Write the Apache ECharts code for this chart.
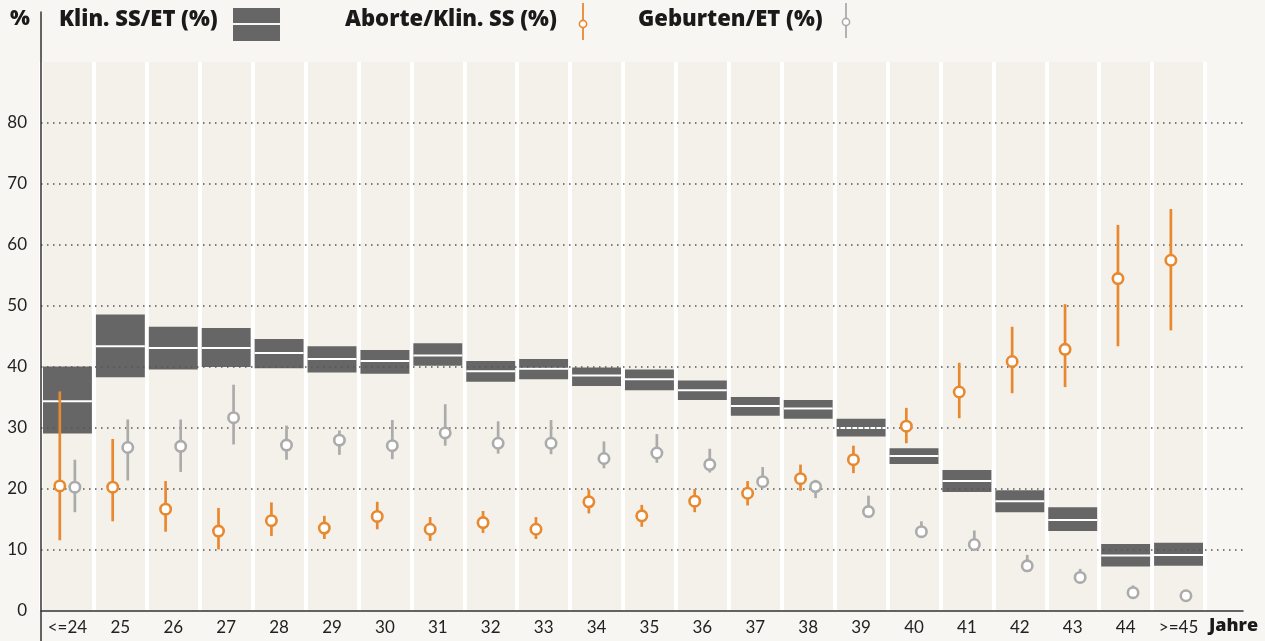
<!DOCTYPE html>
<html>
<head>
<meta charset="utf-8">
<script src="https://cdn.jsdelivr.net/npm/echarts@6/dist/echarts.min.js"></script>
<style>
html,body{margin:0;padding:0;background:#f7f6f2;}
#chart{width:1265px;height:641px;}
</style>
</head>
<body>
<div id="chart"></div>
<script>
// ---- data ----
var categories = ['<=24','25','26','27','28','29','30','31','32','33','34','35','36','37','38','39','40','41','42','43','44','>=45'];
var yTicks = [0,10,20,30,40,50,60,70,80];

// Klin. SS/ET (%) : lower, mid, upper
var klinLow  = [29.1,38.3,39.6,40.0,39.8,39.1,38.9,40.2,37.6,38.0,36.9,36.2,34.6,32.0,31.5,28.6,24.1,19.5,16.2,13.1,7.3,7.4];
var klinMid  = [34.4,43.4,43.1,43.1,42.3,41.3,41.0,41.9,39.3,39.7,38.6,38.0,36.2,33.6,33.2,30.0,25.4,21.3,18.0,14.9,9.1,9.2];
var klinHigh = [40.1,48.6,46.6,46.4,44.6,43.4,42.8,43.9,41.0,41.3,39.9,39.6,37.8,35.1,34.6,31.5,26.7,23.1,19.8,17.0,11.0,11.2];

// Aborte/Klin. SS (%)
var abortMid  = [20.5,20.3,16.7,13.1,14.8,13.6,15.5,13.4,14.5,13.4,17.9,15.6,18.0,19.3,21.7,24.8,30.3,35.9,40.9,42.9,54.5,57.5];
var abortLow  = [11.6,14.7,13.0,10.1,12.3,11.8,13.4,11.5,12.8,11.8,16.0,13.8,16.2,17.3,19.7,22.6,27.5,31.6,35.7,36.7,43.4,46.0];
var abortHigh = [36.0,28.2,21.3,16.9,17.8,15.6,17.9,15.4,16.4,15.4,19.9,17.4,20.0,21.3,24.0,27.1,33.3,40.7,46.6,50.3,63.3,65.9];

// Geburten/ET (%)
var gebMid  = [20.3,26.8,27.0,31.7,27.2,28.0,27.1,29.2,27.5,27.5,25.0,25.9,24.0,21.2,20.4,16.3,13.0,10.9,7.4,5.5,3.0,2.5];
var gebLow  = [16.2,21.4,22.8,27.3,24.8,25.6,24.9,27.1,25.8,25.7,23.4,24.3,22.7,20.1,18.5,16.0,12.5,10.5,7.0,5.2,2.8,2.3];
var gebHigh = [24.8,31.4,31.4,37.1,30.4,29.6,31.3,33.9,31.1,31.3,27.8,29.0,26.6,23.6,21.5,18.9,14.7,13.2,9.2,6.9,4.2,3.0];

// ---- build ----
var FONT = 'Lato';
var LFONT = '"Open Sans"';
var ORANGE = '#e8882f';
var GRAY = '#ababab';
var BOX = '#666666';

var boxData = categories.map(function(c, i){ return [i, klinLow[i], klinMid[i], klinHigh[i]]; });
var abortData = categories.map(function(c, i){ return [i, abortMid[i], abortLow[i], abortHigh[i]]; });
var gebData = categories.map(function(c, i){ return [i, gebMid[i], gebLow[i], gebHigh[i]]; });

function renderBox(params, api){
  var i = api.value(0);
  var top = api.coord([i, api.value(3)]);
  var bot = api.coord([i, api.value(1)]);
  var mid = api.coord([i, api.value(2)]);
  var w = api.size([1, 0])[0] - 4;
  return {type:'group', children:[
    {type:'rect', shape:{x: top[0]-w/2, y: top[1], width: w, height: bot[1]-top[1]}, style:{fill: BOX}},
    {type:'rect', shape:{x: top[0]-w/2, y: mid[1]-1, width: w, height: 2}, style:{fill:'#ffffff'}}
  ]};
}

function makeErr(color, frac){
  return function(params, api){
    var i = api.value(0);
    var band = api.size([1, 0])[0];
    var c = api.coord([i, api.value(1)]);
    var lo = api.coord([i, api.value(2)]);
    var hi = api.coord([i, api.value(3)]);
    var x = c[0] + band * frac;
    return {type:'group', children:[
      {type:'line', shape:{x1:x, y1:hi[1], x2:x, y2:lo[1]}, style:{stroke: color, lineWidth: 2.7}},
      {type:'circle', shape:{cx:x, cy:c[1], r:5.2}, style:{fill:'#ffffff', stroke: color, lineWidth: 2.6}}
    ]};
  };
}

var chart = echarts.init(document.getElementById('chart'));
chart.setOption({
  backgroundColor: '#f7f6f2',
  animation: false,
  grid: [
    {left: 41, top: 62, width: 1164, bottom: 30, show: true, backgroundColor: '#f3f1ea', borderWidth: 0},
    {left: 41, top: 62, right: 22, bottom: 30},
    {left: 41, top: 12, width: 1, bottom: 0}
  ],
  xAxis: [
    {gridIndex: 0, type: 'category', data: categories, boundaryGap: true,
     axisLine: {show: false}, axisTick: {show: false},
     axisLabel: {color: '#222', fontSize: 17, fontFamily: FONT, margin: 8},
     splitLine: {show: true, lineStyle: {color: '#ffffff', width: 4}}},
    {gridIndex: 1, type: 'value', min: 0, max: 1, axisLabel: {show: false}, axisTick: {show: false},
     splitLine: {show: false}, axisLine: {show: true, lineStyle: {color: '#333', width: 1.5}}, z: 5},
    {gridIndex: 2, type: 'value', min: 0, max: 1, show: false}
  ],
  yAxis: [
    {gridIndex: 0, type: 'value', min: 0, max: 90, interval: 10, show: false},
    {gridIndex: 1, type: 'value', min: 0, max: 90, interval: 10, z: 3,
     axisLine: {show: false}, axisTick: {show: false},
     axisLabel: {color: '#222', fontSize: 17, fontFamily: FONT, margin: 14,
       formatter: function(v){ return yTicks.indexOf(v) >= 0 ? String(v) : ''; }},
     splitLine: {show: true, showMinLine: false, showMaxLine: false,
       lineStyle: {color: '#555', width: 1.5, type: [1.5, 4.5]}}},
    {gridIndex: 2, type: 'value', min: 0, max: 1, z: 6,
     axisLine: {show: true, lineStyle: {color: '#333', width: 1.5}},
     axisTick: {show: false}, axisLabel: {show: false}, splitLine: {show: false}}
  ],
  series: [
    {name: 'Klin. SS/ET (%)', type: 'custom', xAxisIndex: 0, yAxisIndex: 0, z: 2,
     renderItem: renderBox, data: boxData, encode: {x: 0, y: [1, 2, 3]}},
    {name: 'Aborte/Klin. SS (%)', type: 'custom', xAxisIndex: 0, yAxisIndex: 0, z: 10,
     renderItem: makeErr(ORANGE, -0.145), data: abortData, encode: {x: 0, y: [1, 2, 3]}},
    {name: 'Geburten/ET (%)', type: 'custom', xAxisIndex: 0, yAxisIndex: 0, z: 10,
     renderItem: makeErr(GRAY, 0.14), data: gebData, encode: {x: 0, y: [1, 2, 3]}}
  ],
  graphic: [
    {type: 'text', left: 10, top: 9, style: {text: '%', font: '800 21px ' + LFONT, fill: '#1a1a1a'}},
    {type: 'text', left: 59, top: 9, style: {text: 'Klin. SS/ET (%)', font: '800 22px ' + LFONT, fill: '#1a1a1a'}},
    {type: 'rect', shape: {x: 233, y: 8, width: 47, height: 15}, style: {fill: BOX}},
    {type: 'rect', shape: {x: 233, y: 25, width: 47, height: 16}, style: {fill: BOX}},
    {type: 'text', left: 345, top: 9, style: {text: 'Aborte/Klin. SS (%)', font: '800 22px ' + LFONT, fill: '#1a1a1a'}},
    {type: 'line', shape: {x1: 583, y1: 3, x2: 583, y2: 40}, style: {stroke: ORANGE, lineWidth: 1.8}},
    {type: 'circle', shape: {cx: 583, cy: 24, r: 3.6}, style: {fill: '#fff', stroke: ORANGE, lineWidth: 1.6}},
    {type: 'text', left: 638, top: 9, style: {text: 'Geburten/ET (%)', font: '800 22px ' + LFONT, fill: '#1a1a1a'}},
    {type: 'line', shape: {x1: 846, y1: 3, x2: 846, y2: 38}, style: {stroke: GRAY, lineWidth: 1.8}},
    {type: 'circle', shape: {cx: 846, cy: 22, r: 3.6}, style: {fill: '#fff', stroke: GRAY, lineWidth: 1.6}},
    {type: 'text', left: 1209, top: 617, style: {text: 'Jahre', font: '800 18px ' + LFONT, fill: '#1a1a1a'}}
  ]
});
</script>
</body>
</html>
